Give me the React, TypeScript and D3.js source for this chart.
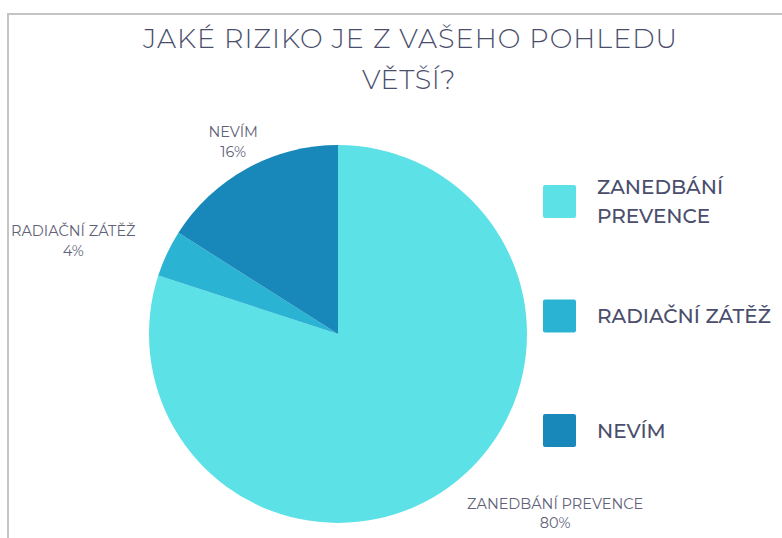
import React from 'react';
import * as d3 from 'd3';

// answers, in the order they are drawn clockwise from 12 o'clock
const categories = ['ZANEDBÁNÍ PREVENCE', 'RADIAČNÍ ZÁTĚŽ', 'NEVÍM'];
const legendLines = [['ZANEDBÁNÍ', 'PREVENCE'], ['RADIAČNÍ ZÁTĚŽ'], ['NEVÍM']];
const shares = [80, 4, 16];
const colors = ['#5ce1e6', '#2bb3d3', '#1788b9'];
const titleLines = ['JAKÉ RIZIKO JE Z VAŠEHO POHLEDU', 'VĚTŠÍ?'];

const width = 782;
const height = 538;
const cx = 338;
const cy = 334;
const radius = 189;
const labelRadius = 205;
const font = "Montserrat, 'Open Sans', 'Noto Sans', sans-serif";

// small nudges so the outside labels sit where the original tool put them
const labelShift: [number, number][] = [[48, 1], [-21, 3], [5, 4]];

export default function App() {
  const pie = d3.pie<number>().sort(null).value(d => d);
  const arcs = pie(shares);
  const arc = d3.arc<d3.PieArcDatum<number>>().innerRadius(0).outerRadius(radius);
  const labelArc = d3.arc<d3.PieArcDatum<number>>().innerRadius(labelRadius).outerRadius(labelRadius);

  const legendY = d3.scalePoint<string>().domain(categories).range([201.5, 430.5]);
  const sq = 33;

  return (
    <svg width={width} height={height} style={{ position: 'absolute', left: 0, top: 0, background: '#fff' }}>
      <path d={`M8,${height} V14 H${width}`} fill="none" stroke="#c4c4c4" strokeWidth={2} />

      <g fontFamily={font} fill="#4a4e6c" fontWeight={300} textAnchor="middle" fontSize={27}>
        <text x={410} y={48} textLength={534} lengthAdjust="spacing">{titleLines[0]}</text>
        <text x={409} y={89} letterSpacing={0.6}>{titleLines[1]}</text>
      </g>

      <g transform={`translate(${cx},${cy})`}>
        {arcs.map((a, i) => (
          <path key={categories[i]} d={arc(a) ?? ''} fill={colors[i]} />
        ))}
      </g>

      <g fontFamily={font} fontSize={14.5} fill="#5f6279" textAnchor="middle">
        {arcs.map((a, i) => {
          const [px, py] = labelArc.centroid(a);
          const mid = (a.startAngle + a.endAngle) / 2;
          const dirx = Math.sin(mid);
          const diry = -Math.cos(mid);
          const halfW = categories[i].length * 4.6;
          const x = cx + px + dirx * halfW + labelShift[i][0];
          const yMid = cy + py + diry * 17 + labelShift[i][1];
          return (
            <text key={categories[i]} x={x} y={yMid - 6}>
              <tspan x={x}>{categories[i]}</tspan>
              <tspan x={x} dy={19.5}>{`${shares[i]}%`}</tspan>
            </text>
          );
        })}
      </g>

      <g fontFamily={font} fontSize={20} fontWeight={500} fill="#4a4e6c">
        {categories.map((c, i) => {
          const y = legendY(c) ?? 0;
          const lines = legendLines[i];
          const lh = 29;
          const first = y + 7 - ((lines.length - 1) * lh) / 2;
          return (
            <g key={c}>
              <rect x={543} y={y - sq / 2} width={sq} height={sq} rx={2} fill={colors[i]} />
              <text x={597} y={first}>
                {lines.map((l, j) => (
                  <tspan key={l} x={597} dy={j === 0 ? 0 : lh}>{l}</tspan>
                ))}
              </text>
            </g>
          );
        })}
      </g>
    </svg>
  );
}
